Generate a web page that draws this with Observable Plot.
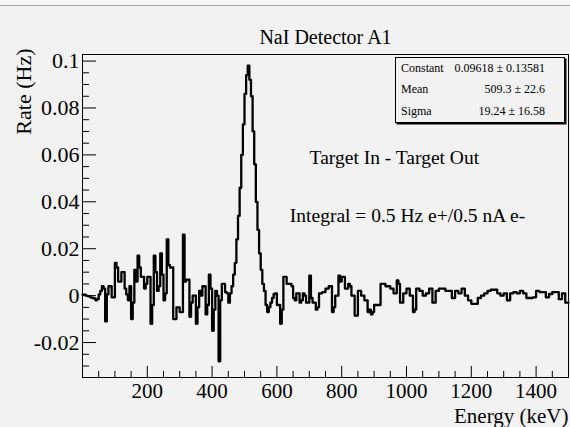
<!DOCTYPE html>
<html>
<head>
<meta charset="utf-8">
<script src="https://cdn.jsdelivr.net/npm/d3@7"></script>
<script src="https://cdn.jsdelivr.net/npm/@observablehq/plot@0.6"></script>
<style>
  html, body { margin: 0; padding: 0; background: #f2f2f2; }
  #wrap { position: relative; width: 570px; height: 427px; overflow: hidden;
          font-family: "Liberation Serif", "Times New Roman", serif; background: #f2f2f2; }
  #topband { position: absolute; left: 0; top: 0; width: 570px; height: 5px; background: #f7f7f7; border-bottom: 1px solid #a8a8a8; }
  #chart { position: absolute; left: 0; top: 0; }
  #stats { position: absolute; left: 395px; top: 57px; width: 168px; height: 64px;
           border: 1px solid #000; box-shadow: 1.5px 1.5px 0 #000; background: #f2f2f2;
           display: flex; flex-direction: column; font-size: 12px; color: #000; }
  #stats .row { flex: 1; display: flex; justify-content: space-between; align-items: center; padding: 0 19px 0 5px; }
</style>
</head>
<body>
<div id="wrap">
  <div id="topband"></div>
  <div id="chart"></div>
  <div id="stats"></div>
</div>
<script>
// ---- data: rate per 5 keV bin, 0 - 1500 keV ----
const binWidth = 5; // keV
const rates = [
  0.0004, 0.0004, 0.0, -0.0002, -0.0004, -0.0008, -0.001, -0.0012, -0.002, -0.0015,
  0.0005, 0.002, 0.004, 0.003, -0.011, 0.0005, 0.004, 0.004, -0.0007, -0.0007,
  0.014, 0.012, 0.006, 0.006, 0.010, 0.010, 0.003, 0.0005, -0.002, 0.004,
  -0.010, -0.003, 0.011, 0.006, 0.017, 0.012, 0.008, 0.008, 0.003, 0.005,
  0.008, 0.008, -0.012, -0.004, 0.017, 0.010, 0.002, 0.004, 0.018, 0.009,
  -0.002, 0.001, 0.024, 0.013, 0.012, 0.012, -0.010, -0.010, -0.005, -0.005,
  -0.007, -0.007, 0.026, 0.006, 0.0068, 0.0068, -0.009, -0.003, 0.0, 0.0,
  -0.012, -0.005, 0.002, 0.0, 0.004, 0.004, -0.008, -0.004, 0.009, 0.003,
  -0.015, -0.006, 0.002, 0.0, -0.028, -0.002, 0.005, 0.005, 0.0015, 0.001,
  -0.003, 0.001, 0.004, 0.009, 0.014, 0.024, 0.034, 0.046, 0.060, 0.073,
  0.086, 0.094, 0.098, 0.092, 0.085, 0.070, 0.056, 0.040, 0.028, 0.018,
  0.011, 0.005, 0.002, -0.004, -0.007, -0.005, -0.003, -0.001, 0.0007, 0.001,
  -0.004, -0.004, -0.012, -0.006, 0.008, 0.008, 0.005, 0.005, 0.005, 0.004,
  -0.001, -0.002, 0.001, 0.001, -0.003, -0.002, 0.001, 0.0, -0.003, -0.003,
  0.0085, -0.001, -0.003, -0.003, -0.006, -0.005, 0.001, 0.001, 0.0015, 0.0015,
  0.003, 0.003, 0.004, 0.004, -0.007, -0.005, 0.0, 0.0, 0.0085, 0.006,
  0.008, 0.008, 0.003, 0.003, 0.005, 0.004, 0.0, 0.0, -0.0085, -0.0085,
  0.002, 0.002, 0.0, 0.0, -0.002, -0.002, -0.007, -0.006, -0.008, -0.007,
  -0.004, -0.004, -0.004, -0.004, 0.005, 0.005, 0.005, 0.004, 0.004, 0.004,
  0.003, 0.003, 0.001, 0.001, 0.0065, 0.005, -0.003, -0.003, 0.001, 0.001,
  0.003, 0.003, 0.0, 0.0, -0.007, -0.006, 0.003, 0.003, 0.002, 0.002,
  0.0, 0.0, 0.001, 0.001, 0.003, 0.003, -0.003, -0.003, 0.002, 0.002,
  0.003, 0.003, 0.003, 0.003, 0.002, 0.002, 0.002, 0.002, -0.001, -0.001,
  0.002, 0.002, 0.001, 0.001, 0.003, 0.003, 0.0, 0.0, -0.002, -0.002,
  -0.0035, -0.0035, -0.0035, -0.0035, -0.001, -0.001, 0.0, 0.0, 0.001, 0.001,
  0.002, 0.002, 0.0025, 0.0025, 0.0025, 0.0025, 0.001, 0.001, 0.0, 0.0,
  0.001, 0.001, -0.002, -0.002, 0.001, 0.001, 0.0015, 0.0015, 0.001, 0.001,
  0.002, 0.002, 0.001, 0.001, -0.001, -0.001, -0.001, -0.001, -0.0007, -0.0007,
  0.002, 0.002, 0.0015, 0.0015, 0.0015, 0.0015, -0.0007, -0.0007, 0.0007, 0.0007,
  0.0015, 0.0015, 0.0015, 0.0015, -0.0015, -0.0015, 0.001, 0.001, -0.003, -0.003
];
const binLowEdges = rates.map((_, i) => i * binWidth);
const xDomain = [0, 1500];
const yDomain = [-0.0349, 0.1028];
const xMajorTicks = [200, 400, 600, 800, 1000, 1200, 1400];
const xMinorTicks = d3.range(50, 1500, 50).filter(v => v % 200 !== 0);
const yMajorTicks = [-0.02, 0, 0.02, 0.04, 0.06, 0.08, 0.1];
const yMinorTicks = d3.range(-30, 101, 5).map(v => v / 1000).filter(v => !yMajorTicks.some(t => Math.abs(t - v) < 1e-9));
const titleText = ["NaI Detector A1"];
const xLabel = ["Energy (keV)"];
const yLabel = ["Rate (Hz)"];
const annotationText = ["Target In - Target Out", "Integral = 0.5 Hz e+/0.5 nA e-"];
const annotationEnergy = [701, 640];
const annotationRate = [0.0563, 0.0316];
const statLabels = ["Constant", "Mean", "Sigma"];
const statValues = ["0.09618 \u00b1 0.13581", "509.3 \u00b1 22.6", "19.24 \u00b1 16.58"];

// ---- build ----
const W = 570, H = 427;
const mL = 82, mR = 2, mT = 54, mB = 50;
const plotW = W - mL - mR, plotH = H - mT - mB;

const points = binLowEdges.map((x, i) => ({x, y: rates[i]}));
points.push({x: binLowEdges[binLowEdges.length - 1] + binWidth, y: rates[rates.length - 1]});
const annotations = annotationText.map((t, i) => ({t, x: annotationEnergy[i], y: annotationRate[i]}));

const chart = Plot.plot({
  width: W, height: H,
  marginLeft: mL, marginRight: mR, marginTop: mT, marginBottom: mB,
  style: {background: "transparent", fontFamily: "Liberation Serif, Times New Roman, serif", color: "#000", overflow: "visible"},
  x: {domain: xDomain},
  y: {domain: yDomain},
  marks: [
    Plot.tickX(xMinorTicks, {x: d => d, insetTop: plotH - 6, stroke: "#000"}),
    Plot.tickX(xMajorTicks, {x: d => d, insetTop: plotH - 11, stroke: "#000"}),
    Plot.tickY(yMinorTicks, {y: d => d, insetRight: plotW - 7, stroke: "#000"}),
    Plot.tickY(yMajorTicks, {y: d => d, insetRight: plotW - 14, stroke: "#000"}),
    Plot.line(points, {x: "x", y: "y", curve: "step-after", stroke: "#000", strokeWidth: 2.3}),
    Plot.frame({stroke: "#000"}),
    Plot.axisX(xMajorTicks, {anchor: "bottom", tickSize: 0, tickPadding: 6, fontSize: 21, label: null, tickFormat: d => String(d)}),
    Plot.axisY(yMajorTicks, {anchor: "left", tickSize: 0, tickPadding: 3, fontSize: 22, label: null, tickFormat: d => String(d)}),
    Plot.text(titleText, {text: d => d, frameAnchor: "top", dy: -11, lineAnchor: "bottom", fontSize: 20}),
    Plot.text(xLabel, {text: d => d, frameAnchor: "bottom-right", textAnchor: "end", lineAnchor: "bottom", dy: 45, fontSize: 21}),
    Plot.text(yLabel, {text: d => d, frameAnchor: "top-left", rotate: -90, textAnchor: "end", lineAnchor: "middle", dx: -59, dy: -6, fontSize: 22}),
    Plot.text(annotations, {x: "x", y: "y", text: "t", textAnchor: "start", lineAnchor: "bottom", fontSize: 19.5})
  ]
});
document.getElementById("chart").appendChild(chart);

const stats = document.getElementById("stats");
statLabels.forEach((lab, i) => {
  const row = document.createElement("div");
  row.className = "row";
  const a = document.createElement("span"); a.textContent = lab;
  const b = document.createElement("span"); b.textContent = statValues[i];
  row.appendChild(a); row.appendChild(b);
  stats.appendChild(row);
});
</script>
</body>
</html>
